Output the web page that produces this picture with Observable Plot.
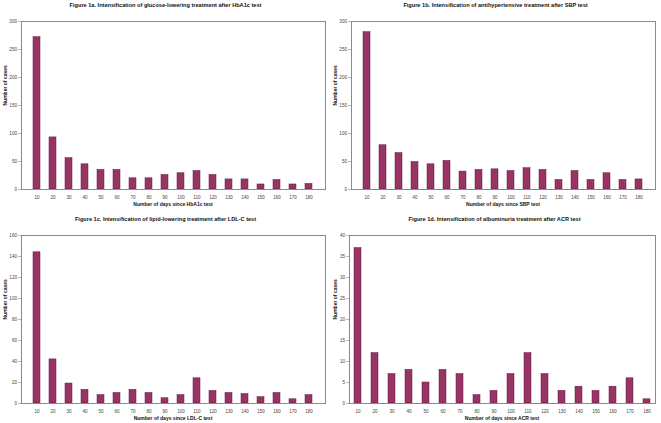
<!DOCTYPE html>
<html>
<head>
<meta charset="utf-8">
<script src="https://cdn.jsdelivr.net/npm/d3@7"></script>
<script src="https://cdn.jsdelivr.net/npm/@observablehq/plot@0.6"></script>
<style>
  html, body { margin: 0; padding: 0; background: #fff; }
  #chart { position: relative; width: 661px; height: 423px; background: #fff; overflow: hidden; }
  .panel { position: absolute; }
  .xlabel { position: absolute; text-align: center; font-family: 'Liberation Sans', Arial, sans-serif;
            font-weight: bold; font-size: 5px; line-height: 6px; color: #111; white-space: nowrap; }
</style>
</head>
<body>
<div id="chart"></div>
<script>
const days = [10, 20, 30, 40, 50, 60, 70, 80, 90, 100, 110, 120, 130, 140, 150, 160, 170, 180];

const glucoseCases = [272, 93, 56, 45, 35, 35, 20, 20, 26, 29, 33, 26, 18, 18, 9, 17, 9, 10];
const antihypertensiveCases = [281, 79, 65, 49, 45, 51, 32, 35, 36, 33, 38, 35, 17, 33, 17, 29, 17, 18];
const lipidCases = [144, 42, 19, 13, 8, 10, 13, 10, 5, 8, 24, 12, 10, 9, 6, 10, 4, 8];
const albuminuriaCases = [37, 12, 7, 8, 5, 8, 7, 2, 3, 7, 12, 7, 3, 4, 3, 4, 6, 1];

const titles = [
  "Figure 1a. Intensification of glucose-lowering treatment after HbA1c test",
  "Figure 1b. Intensification of antihypertensive treatment after SBP test",
  "Figure 1c. Intensification of lipid-lowering treatment after LDL-C test",
  "Figure 1d. Intensification of albuminuria treatment after ACR test"
];
const xLabels = [
  "Number of days since HbA1c test",
  "Number of days since SBP test",
  "Number of days since LDL-C test",
  "Number of days since ACR test"
];
const yLabel = "Number of cases";
const yTicks = [
  [0, 50, 100, 150, 200, 250, 300],
  [0, 50, 100, 150, 200, 250, 300],
  [0, 20, 40, 60, 80, 100, 120, 140, 160],
  [0, 5, 10, 15, 20, 25, 30, 35, 40]
];

const panels = [
  {values: glucoseCases, left: 0, top: 0, width: 330, height: 210, mt: 21, mb: 21, ml: 21, mr: 5},
  {values: antihypertensiveCases, left: 330, top: 0, width: 331, height: 210, mt: 21, mb: 21, ml: 21, mr: 6},
  {values: lipidCases, left: 0, top: 210, width: 330, height: 213, mt: 25, mb: 20, ml: 21, mr: 5},
  {values: albuminuriaCases, left: 330, top: 210, width: 331, height: 213, mt: 25, mb: 20, ml: 19, mr: 6}
];

const font = "'Liberation Sans', Arial, sans-serif";
const barColor = "#993366";
const chart = document.getElementById("chart");

panels.forEach((p, i) => {
  const data = days.map((d, j) => ({day: d, cases: p.values[j]}));
  const ticks = yTicks[i];
  const svg = Plot.plot({
    width: p.width,
    height: p.height,
    marginTop: p.mt,
    marginBottom: p.mb,
    marginLeft: p.ml,
    marginRight: p.mr,
    style: {fontFamily: font, fontSize: "4.6px", color: "#444", background: "#fff"},
    x: {type: "band", domain: days, padding: 0.56, paddingOuter: 0.28, label: null},
    y: {domain: [0, ticks[ticks.length - 1]], label: null},
    marks: [
      Plot.barY(data, {x: "day", y: "cases", fill: barColor, stroke: "#5e1c3e", strokeWidth: 0.5}),
      Plot.frame({stroke: "#8a8a8a", strokeWidth: 1}),
      Plot.axisY({ticks: ticks, tickSize: 3, tickPadding: 1.5, label: null, stroke: "#888", strokeWidth: 0.6, fontSize: "4.6px", fill: "#444"}),
      Plot.axisX({tickSize: 0, tickPadding: 6, label: null, fontSize: "4.6px", fill: "#444"}),
      Plot.text([titles[i]], {text: d => d, frameAnchor: "top", lineAnchor: "middle", dy: -16, dx: -8, fontWeight: "bold", fontSize: 5.6, fill: "#111"}),
      Plot.text([yLabel], {text: d => d, frameAnchor: "left", lineAnchor: "middle", rotate: -90, dx: -(p.ml - 5), fontWeight: "bold", fontSize: 5, fill: "#111"})
    ]
  });
  const div = document.createElement("div");
  div.className = "panel";
  div.style.left = p.left + "px";
  div.style.top = p.top + "px";
  div.appendChild(svg);
  chart.appendChild(div);

  const lab = document.createElement("div");
  lab.className = "xlabel";
  lab.textContent = xLabels[i];
  lab.style.left = (p.left + p.ml) + "px";
  lab.style.width = (p.width - p.ml - p.mr) + "px";
  lab.style.top = (p.top + p.height - p.mb + 11.8) + "px";
  chart.appendChild(lab);
});
</script>
</body>
</html>
